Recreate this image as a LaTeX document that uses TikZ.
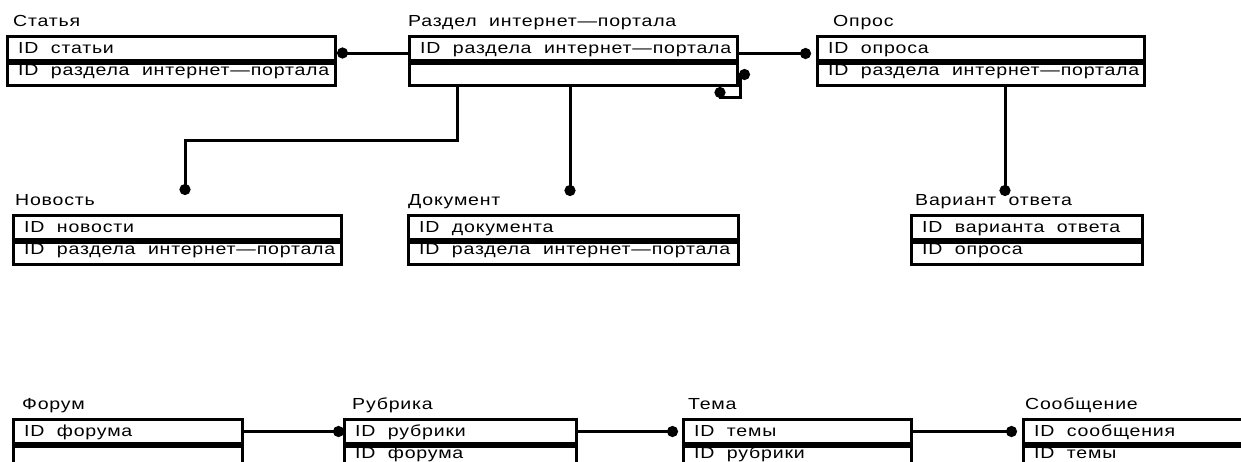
\documentclass[tikz,border=0pt]{standalone}
\usepackage{fontspec}
\setmainfont{Liberation Sans}[FakeStretch=1.22, LetterSpace=5]
\usetikzlibrary{arrows.meta}
\newcommand{\efont}{\fontsize{16}{19}\selectfont}
\tikzset{
  ed/.tip={Circle[length=11pt]},
  erow/.style={draw, line width=3pt, inner sep=0pt, anchor=north west},
  etext/.style={anchor=base west, inner sep=0pt, font=\efont},
  etitle/.style={anchor=base west, inner sep=0pt, font=\efont},
  conn/.style={line width=3pt},
  dotstart/.style={ed-},
  dotend/.style={-ed},
  dotboth/.style={ed-ed},
}
% #1 name, #2 x, #3 top, #4 width, #5 title offset, #6 title, #7 row1, #8 row2
\newcommand{\entity}[8]{%
  \node[etitle] (#1-t) at (#2+#5, #3-9) {#6};
  \node[erow, minimum width=#4pt, minimum height=24pt] (#1-a) at (#2, #3) {};
  \node[erow, minimum width=#4pt, minimum height=22pt] (#1-b) at (#1-a.south west) {};
  \node[etext] (#1-at) at (#2+12, #3+18) {#7};
  \node[etext] (#1-bt) at (#2+12, #3+40) {#8};
}
\begin{document}
\begin{tikzpicture}[x=1pt, y=-1pt]
\fill[white] (0,0) rectangle (1241,461);
\useasboundingbox (0,0) rectangle (1241,461);
\clip (0,0) rectangle (1241,461);

\entity{stat}{6}{35}{328}{7}{Статья}{ID~~статьи}{ID~~раздела~~интернет—портала}
\entity{razd}{408}{35}{328}{0}{Раздел~~интернет—портала}{ID~~раздела~~интернет—портала}{}
\entity{opros}{816}{35}{327}{17}{Опрос}{ID~~опроса}{ID~~раздела~~интернет—портала}
\entity{nov}{12}{214}{328}{3}{Новость}{ID~~новости}{ID~~раздела~~интернет—портала}
\entity{doc}{407}{214}{330}{1}{Документ}{ID~~документа}{ID~~раздела~~интернет—портала}
\entity{var}{910}{214}{231}{5}{Вариант~~ответа}{ID~~варианта~~ответа}{ID~~опроса}
\entity{forum}{12}{418}{229}{10}{Форум}{ID~~форума}{}
\entity{rubr}{343}{418}{232}{9}{Рубрика}{ID~~рубрики}{ID~~форума}
\entity{tema}{682}{418}{228}{6}{Тема}{ID~~темы}{ID~~рубрики}
\entity{soob}{1022}{418}{250}{3}{Сообщение}{ID~~сообщения}{ID~~темы}

% junction coordinates
\coordinate (j1) at (457,140);
\coordinate (j2) at (185,140);
\coordinate (j3) at (570,196);
\coordinate (j4) at (1005,196);
\coordinate (j5) at (185,195);
\coordinate (la) at (740,97);
\coordinate (lb) at (720,97);

% top row
\draw[conn, dotstart] ([yshift=-4.5pt]stat-a.east) -- ([yshift=-4.5pt]razd-a.west);
\draw[conn, dotend] ([yshift=-5pt]razd-a.east) -- ([xshift=-5pt,yshift=-5pt]opros-a.west);
\draw[conn, dotboth] (razd-b.east) -| (la) -- (lb) -- (lb |- razd-b.south);
% down to middle row
\draw[conn, dotend] (razd-b.south -| j1) -- (j1) -- (j2) -- (j5);
\draw[conn, dotend] (razd-b.south -| j3) -- (j3);
\draw[conn, dotend] (opros-b.south -| j4) -- (j4);
% bottom row
\draw[conn, dotend] (forum-a.east) -- ([xshift=1pt]rubr-a.west);
\draw[conn, dotend] (rubr-a.east) -- ([xshift=-4pt]tema-a.west);
\draw[conn, dotend] (tema-a.east) -- ([xshift=-5pt]soob-a.west);
\end{tikzpicture}
\end{document}
